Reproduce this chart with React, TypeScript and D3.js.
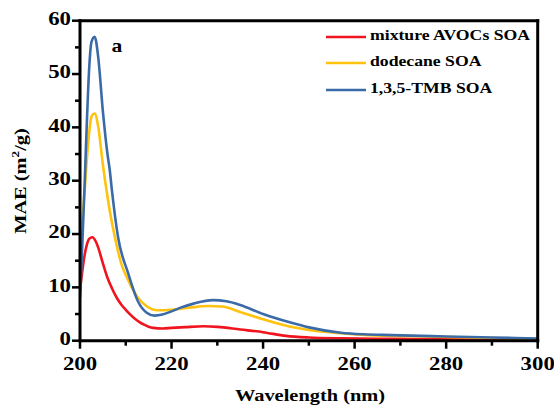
import * as d3 from 'd3';

// wavelength (nm) / MAE (m2/g)
const mixtureWl = [200, 200.5, 201, 201.5, 202, 202.7, 203.5, 204, 205, 206, 207, 208, 209, 210, 211, 212, 213, 214, 215, 216, 218, 220, 223, 227, 230, 235, 240, 245, 250, 257, 270, 285, 300];
const mixtureMae = [9.5, 13, 16, 18, 19.1, 19.4, 18.5, 17.4, 14.5, 11.8, 9.8, 8.1, 6.8, 5.8, 4.9, 4.1, 3.5, 3.0, 2.6, 2.4, 2.3, 2.4, 2.55, 2.7, 2.6, 2.1, 1.6, 0.9, 0.6, 0.45, 0.35, 0.25, 0.2];

const dodecaneWl = [200, 200.5, 201, 201.5, 202, 202.5, 203.2, 204, 205, 206, 207, 207.6, 209, 210.5, 212.7, 214.5, 217, 220, 224, 228, 231, 235, 240, 246, 250, 257, 262, 270, 280, 290, 300];
const dodecaneMae = [15, 22, 28, 34, 39, 42, 42.6, 40, 33, 27, 22, 19.5, 14.5, 11.4, 8, 6.5, 5.7, 5.8, 6.2, 6.5, 6.4, 5.4, 4.0, 2.6, 2.0, 1.4, 1.1, 0.9, 0.7, 0.5, 0.3];

const tmbWl = [200, 200.5, 201, 201.5, 202, 202.5, 203.2, 204, 205, 206, 206.5, 207, 208.3, 210.5, 212.7, 214.5, 216.3, 218, 220, 222, 225, 229, 232, 235, 240, 246, 250, 257, 262, 268, 280, 290, 300];
const tmbMae = [8, 18, 29, 41, 51, 56, 57, 53, 43, 35, 32, 28, 19.5, 12.7, 7.3, 5.3, 4.7, 4.9, 5.5, 6.2, 7.0, 7.6, 7.4, 6.7, 5.0, 3.4, 2.5, 1.5, 1.2, 1.05, 0.8, 0.6, 0.4];

const seriesNames = ['mixture AVOCs SOA', 'dodecane SOA', '1,3,5-TMB SOA'];
const seriesColors = ['#f0141e', '#ffc20e', '#3a6ba8'];
const xTicks = [200, 220, 240, 260, 280, 300];
const xMinor = [210, 230, 250, 270, 290];
const yTicks = [0, 10, 20, 30, 40, 50, 60];
const yMinor = [5, 15, 25, 35, 45, 55];

const FONT = '"Liberation Serif", "Times New Roman", serif';
const SX = 1.2; // the original text is horizontally stretched

const margin = { top: 20.7, left: 80 };
const w = 457.7;
const h = 320;

const x = d3.scaleLinear().domain([200, 300]).range([0, w]);
const y = d3.scaleLinear().domain([0, 60]).range([h, 0]);

const lineGen = d3.line<number[]>()
  .x(d => x(d[0]))
  .y(d => y(d[1]))
  .curve(d3.curveMonotoneX);

const series = [
  mixtureWl.map((d, i) => [d, mixtureMae[i]]),
  dodecaneWl.map((d, i) => [d, dodecaneMae[i]]),
  tmbWl.map((d, i) => [d, tmbMae[i]]),
];

const bold = { fontFamily: FONT, fontWeight: 'bold' as const };
const INK = 'black';

export default function App() {
  const rows = [37, 63, 90];
  return (
    <svg
      width={554}
      height={408}
      style={{ position: 'fixed', left: 0, top: 0, display: 'block', background: 'white' }}
    >
      <defs>
        <clipPath id="plot-clip">
          <rect width={w} height={h} />
        </clipPath>
      </defs>
      <g transform={`translate(${margin.left},${margin.top})`}>
        {series.map((s, i) => (
          <path
            key={i}
            d={lineGen(s) || ''}
            clipPath="url(#plot-clip)"
            fill="none"
            stroke={seriesColors[i]}
            strokeWidth={2.6}
          />
        ))}

        {xMinor.map(v => (
          <line key={'xm' + v} x1={x(v)} x2={x(v)} y1={h} y2={h + 5} stroke={INK} strokeWidth={2.5} />
        ))}
        {xTicks.map(v => (
          <line key={'xl' + v} x1={x(v)} x2={x(v)} y1={h} y2={h + 8} stroke={INK} strokeWidth={2.5} />
        ))}
        {yMinor.map(v => (
          <line key={'ym' + v} x1={0} x2={-5} y1={y(v)} y2={y(v)} stroke={INK} strokeWidth={2.5} />
        ))}
        {yTicks.map(v => (
          <line key={'yl' + v} x1={0} x2={-8} y1={y(v)} y2={y(v)} stroke={INK} strokeWidth={2.5} />
        ))}

        {/* frame */}
        <line x1={0} y1={0} x2={w} y2={0} stroke={INK} strokeWidth={3} strokeLinecap="square" />
        <line x1={w} y1={0} x2={w} y2={h} stroke={INK} strokeWidth={3} strokeLinecap="square" />
        <line x1={0} y1={h} x2={w} y2={h} stroke={INK} strokeWidth={3} strokeLinecap="square" />
        <line x1={0} y1={0} x2={0} y2={h} stroke={INK} strokeWidth={3} strokeLinecap="square" />

        {xTicks.map(v => (
          <text
            key={'xt' + v}
            transform={`translate(${x(v)},${h + 25}) scale(${SX},1)`}
            textAnchor="middle"
            dominantBaseline="middle"
            fontSize={19}
            {...bold}
          >
            {v}
          </text>
        ))}
        {yTicks.map(v => (
          <text
            key={'yt' + v}
            transform={`translate(-9,${y(v)}) scale(${SX},1)`}
            textAnchor="end"
            dominantBaseline="middle"
            fontSize={19}
            {...bold}
          >
            {v}
          </text>
        ))}
      </g>

      <text
        transform={`translate(310,397) scale(${SX},1)`}
        textAnchor="middle"
        dominantBaseline="middle"
        fontSize={17}
        {...bold}
      >
        Wavelength (nm)
      </text>

      <text
        transform={`translate(22,181) rotate(-90) scale(${SX},1)`}
        textAnchor="middle"
        dominantBaseline="middle"
        fontSize={17}
        {...bold}
      >
        <tspan>MAE (m</tspan>
        <tspan dy={-6} fontSize={11}>2</tspan>
        <tspan dy={6}>/g)</tspan>
      </text>

      <text
        transform={`translate(117,48) scale(${SX},1)`}
        textAnchor="middle"
        dominantBaseline="middle"
        fontSize={18}
        {...bold}
      >
        a
      </text>

      {seriesNames.map((name, i) => (
        <g key={name}>
          <line x1={326} x2={366} y1={rows[i]} y2={rows[i]} stroke={seriesColors[i]} strokeWidth={2.6} />
          <text
            transform={`translate(370,${rows[i]}) scale(1.22,1)`}
            dominantBaseline="middle"
            fontSize={14.5}
            {...bold}
          >
            {name}
          </text>
        </g>
      ))}
    </svg>
  );
}
